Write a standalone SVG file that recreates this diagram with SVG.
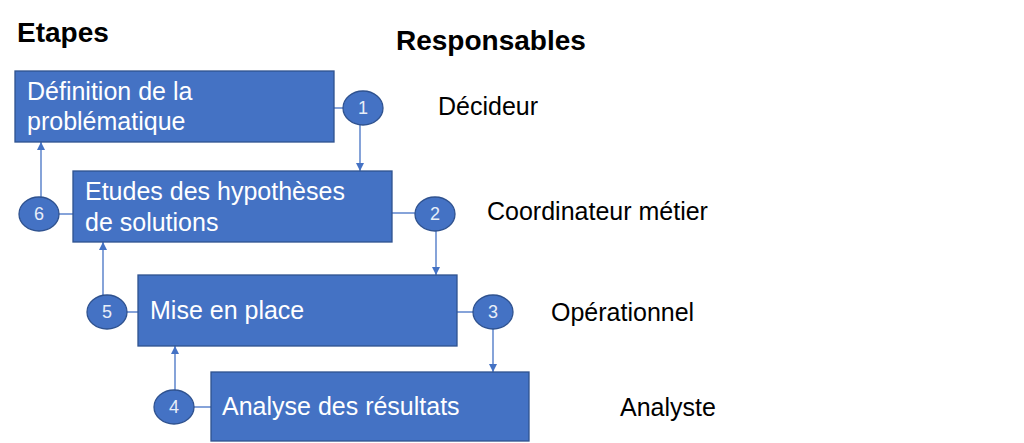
<svg xmlns="http://www.w3.org/2000/svg" width="1024" height="443" viewBox="0 0 1024 443">
<defs>
<marker id="ah" viewBox="0 0 10 10" refX="10" refY="5" markerWidth="8" markerHeight="8" markerUnits="userSpaceOnUse" orient="auto">
<path d="M0,0 L10,5 L0,10 Z" fill="#4472C4"/>
</marker>
<style>
.box{fill:#4472C4;stroke:#2F528F;stroke-width:1.3}
.circ{fill:#4472C4;stroke:#2F528F;stroke-width:1.3}
.bt{font-family:"Liberation Sans",Arial,sans-serif;font-size:25px;fill:#fff}
.nt{font-family:"Liberation Sans",Arial,sans-serif;font-size:18px;fill:#E8EEF8;text-anchor:middle}
.lt{font-family:"Liberation Sans",Arial,sans-serif;font-size:25px;fill:#000}
.ht{font-family:"Liberation Sans",Arial,sans-serif;font-size:28px;font-weight:bold;fill:#000}
.c{stroke:#4472C4;stroke-width:1.3;fill:none}
.a{stroke:#4472C4;stroke-width:1.3;fill:none;marker-end:url(#ah)}
</style>
</defs>
<rect width="1024" height="443" fill="#fff"/>
<text class="ht" x="17" y="42">Etapes</text>
<text class="ht" x="396" y="50">Responsables</text>
<g id="connectors">
<line class="c" x1="334" y1="108" x2="343" y2="108"/>
<line class="c" x1="392" y1="213" x2="415" y2="213"/>
<line class="c" x1="457" y1="312" x2="474" y2="312"/>
<line class="c" x1="59" y1="214" x2="73" y2="214"/>
<line class="c" x1="127" y1="312" x2="138" y2="312"/>
<line class="c" x1="194" y1="407" x2="211" y2="407"/>
<line class="a" x1="360" y1="125" x2="360" y2="171"/>
<line class="a" x1="436" y1="231" x2="436" y2="275"/>
<line class="a" x1="493" y1="329" x2="493" y2="372"/>
<line class="a" x1="41" y1="198" x2="41" y2="142"/>
<line class="a" x1="103" y1="295" x2="103" y2="242"/>
<line class="a" x1="175" y1="391" x2="175" y2="346"/>
</g>
<g id="step1">
<rect class="box" x="15" y="71" width="319" height="71"/>
<text class="bt" x="27" y="100">Définition de la</text>
<text class="bt" x="27" y="130">problématique</text>
</g>
<g id="step2">
<rect class="box" x="73" y="171" width="319" height="71"/>
<text class="bt" x="85" y="200">Etudes des hypothèses</text>
<text class="bt" x="85" y="231">de solutions</text>
</g>
<g id="step3">
<rect class="box" x="138" y="275" width="319" height="71"/>
<text class="bt" x="150" y="319">Mise en place</text>
</g>
<g id="step4">
<rect class="box" x="211" y="372" width="318" height="69"/>
<text class="bt" x="222" y="415">Analyse des résultats</text>
</g>
<g id="n1"><ellipse class="circ" cx="363" cy="108" rx="20" ry="17"/><text class="nt" x="363" y="114">1</text></g>
<g id="n2"><ellipse class="circ" cx="435" cy="214" rx="20" ry="17"/><text class="nt" x="435" y="220">2</text></g>
<g id="n3"><ellipse class="circ" cx="493" cy="312" rx="20" ry="17"/><text class="nt" x="493" y="318">3</text></g>
<g id="n4"><ellipse class="circ" cx="174" cy="407" rx="20" ry="17"/><text class="nt" x="174" y="413">4</text></g>
<g id="n5"><ellipse class="circ" cx="107" cy="312" rx="20" ry="17"/><text class="nt" x="107" y="318">5</text></g>
<g id="n6"><ellipse class="circ" cx="39" cy="214" rx="20" ry="17"/><text class="nt" x="39" y="220">6</text></g>
<g id="roles">
<text class="lt" x="438" y="115">Décideur</text>
<text class="lt" x="487" y="220">Coordinateur métier</text>
<text class="lt" x="551" y="321">Opérationnel</text>
<text class="lt" x="620" y="416">Analyste</text>
</g>
</svg>
